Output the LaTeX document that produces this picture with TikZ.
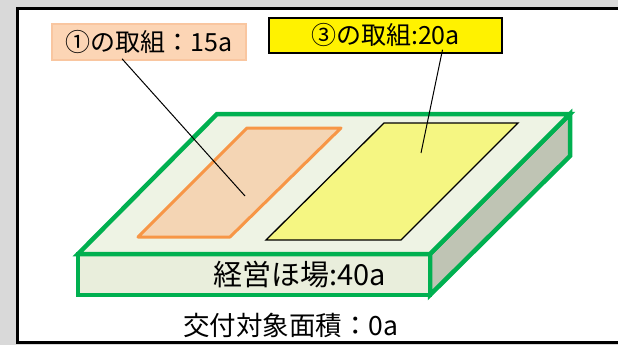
\documentclass[tikz,border=0pt]{standalone}
\usepackage{fontspec}
\setmainfont{Noto Sans CJK JP}
\usepackage{tikz}
\usetikzlibrary{positioning,calc}
\definecolor{frame}{RGB}{217,217,217}
\definecolor{fieldgreen}{RGB}{0,176,80}
\definecolor{topface}{RGB}{238,243,228}
\definecolor{frontface}{RGB}{233,238,220}
\definecolor{sideface}{RGB}{191,196,180}
\definecolor{plotorange}{RGB}{247,150,70}
\definecolor{plotpeach}{RGB}{244,213,180}
\definecolor{plotyellow}{RGB}{245,246,130}
\definecolor{tagpeach}{RGB}{252,213,181}
\definecolor{tagline}{RGB}{249,198,160}

\begin{document}
\begin{tikzpicture}[x=1pt,y=-1pt]
        \tikzstyle{slab}=[draw=fieldgreen,line width=4.5pt,line join=miter]
        \tikzstyle{tag}=[minimum height=36pt,inner xsep=4pt,font=\fontsize{25}{28}\selectfont]
        \tikzstyle{word}=[draw=none,inner sep=0pt]

      \useasboundingbox (0,0) rectangle (618,345);
      \clip (0,0) rectangle (618,345);
      \fill[frame] (0,0) rectangle (618,345);
      \draw[fill=white,line width=3pt] (17,9) rectangle (650,342);

      % field slab
      \draw[slab,fill=sideface] (430,254) -- (570,114) -- (570,156) -- (430,295) -- cycle;
      \draw[slab,fill=frontface] (78,254) rectangle (430,295);
      \draw[slab,fill=topface] (217,114) -- (570,114) -- (430,254) -- (78,254) -- cycle;

      % plots
      \draw[plotorange,fill=plotpeach,line width=3pt,line join=round]
        (247,128) -- (341,128) -- (230,237) -- (138,237) -- cycle;
      \draw[fill=plotyellow,line width=1.3pt]
        (384,123) -- (518,123) -- (401,240) -- (266,240) -- cycle;

      \node[tag,draw=tagline,line width=1.5pt,fill=tagpeach,minimum width=194pt] (T1) at (149,42) {①の取組：15a};
      \node[tag,draw=black,line width=1.5pt,fill=yellow,minimum width=233pt,minimum height=35pt] (T3) at (385.5,35.5) {③の取組:20a};
      \node[word,font=\fontsize{29}{32}\selectfont] (F) at (300,275) {経営ほ場:40a};
      \node[word,font=\fontsize{26.5}{29}\selectfont] (S) at (291,325) {交付対象面積：0a};

      \coordinate (P1) at (245,196);
      \coordinate (P3) at (421,153);
      \path [-,line width=1pt] ([xshift=-27pt,yshift=2pt]T1.south) edge (P1);
      \path [-,line width=1pt] ([xshift=57pt,yshift=4pt]T3.south) edge (P3);
    \end{tikzpicture}
\end{document}
